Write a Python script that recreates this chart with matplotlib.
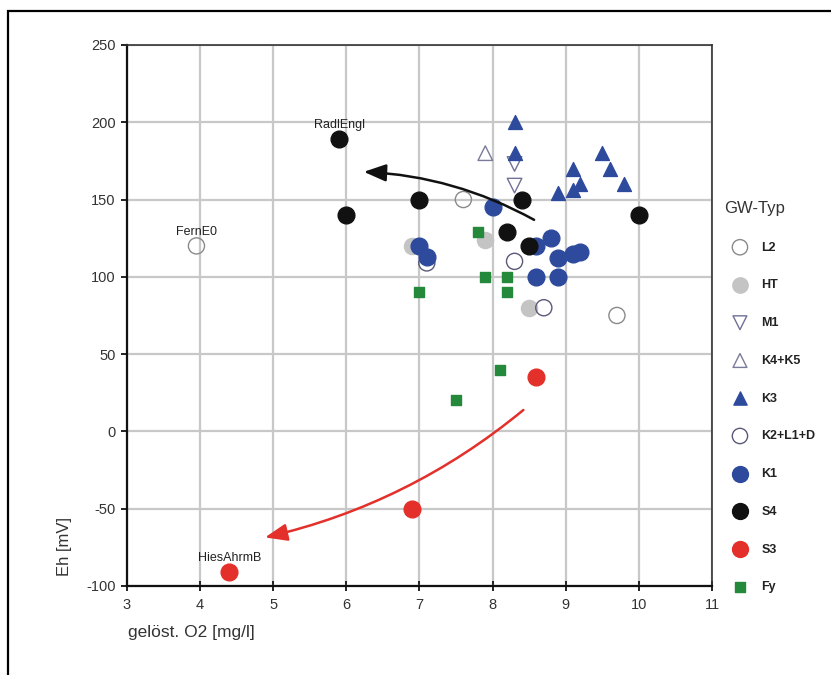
import matplotlib
matplotlib.use("Agg")
import matplotlib.pyplot as plt
from matplotlib.patches import FancyArrowPatch, Rectangle

plt.rcParams['font.family'] = ['Liberation Sans', 'DejaVu Sans']
plt.rcParams['axes.unicode_minus'] = False

# DATEN (gelöst. O2 [mg/l], Eh [mV])
l2_x = [3.95, 7.6, 9.7]
l2_y = [120, 150, 75]

ht_x = [6.9, 7.9, 8.5]
ht_y = [120, 124, 80]

m1_x = [8.3, 8.3]
m1_y = [173, 159]

k45_x = [7.9]
k45_y = [180]

k3_x = [8.3, 8.3, 9.1, 9.2, 9.5, 9.6, 9.8, 8.9, 9.1]
k3_y = [200, 180, 170, 160, 180, 170, 160, 154, 156]

k2_x = [7.1, 8.3, 8.7]
k2_y = [109, 110, 80]

k1_x = [8.0, 7.0, 7.1, 8.8, 8.6, 8.9, 9.1, 9.2, 8.6, 8.9]
k1_y = [145, 120, 113, 125, 120, 112, 115, 116, 100, 100]

s4_x = [5.9, 6.0, 7.0, 8.4, 8.2, 8.5, 10.0]
s4_y = [189, 140, 150, 150, 129, 120, 140]

s3_x = [8.6, 6.9, 4.4]
s3_y = [35, -50, -91]

fy_x = [7.8, 7.0, 7.9, 8.2, 8.2, 8.1, 7.5]
fy_y = [129, 90, 100, 100, 90, 40, 20]

# Beschriftete Messstellen
names = ["RadlEngl", "FernE0", "HiesAhrmB"]
names_x = [5.9, 3.95, 4.4]
names_y = [189, 120, -91]

# Pfeile (Start, Ende)
arrow_black = [(8.6, 136), (6.2, 168)]
arrow_red = [(8.45, 15), (4.85, -69)]

BLUE = '#2d4a9c'

fig = plt.figure(figsize=(8.31, 6.75), dpi=100)
ax = fig.add_axes([0.1528, 0.1319, 0.704, 0.8015])

# outer frame
fig.add_artist(Rectangle((8 / 831, -0.2), 1.5, (675 - 11) / 675 + 0.2,
                         transform=fig.transFigure, fill=False,
                         edgecolor='black', linewidth=1.6))

ax.scatter(l2_x, l2_y, s=135, facecolors='none', edgecolors='#8a8a8a',
           linewidths=1.0, label='L2', zorder=3)
ax.scatter(ht_x, ht_y, s=135, color='#c4c4c4', label='HT', zorder=3)
ax.scatter(m1_x, m1_y, s=110, marker='v', facecolors='none',
           edgecolors='#707098', linewidths=1.0, label='M1', zorder=3)
ax.scatter(k45_x, k45_y, s=110, marker='^', facecolors='none',
           edgecolors='#7a7a9a', linewidths=1.0, label='K4+K5', zorder=3)
ax.scatter(k3_x, k3_y, s=100, marker='^', color=BLUE, label='K3', zorder=3)
ax.scatter(k2_x, k2_y, s=135, facecolors='none', edgecolors='#5a5a78',
           linewidths=1.0, label='K2+L1+D', zorder=3)
ax.scatter(k1_x, k1_y, s=145, color=BLUE, label='K1', zorder=4)
ax.scatter(s4_x, s4_y, s=145, color='#111111', label='S4', zorder=4)
ax.scatter(s3_x, s3_y, s=145, color='#e3302b', label='S3', zorder=4)
ax.scatter(fy_x, fy_y, s=62, marker='s', color='#24893a', label='Fy', zorder=5)

for n, x, y in zip(names, names_x, names_y):
    ax.annotate(n, (x, y), xytext=(0, 6), textcoords='offset points',
                ha='center', va='bottom', fontsize=9, color='#222222')

ax.add_patch(FancyArrowPatch(arrow_black[0], arrow_black[1],
                             connectionstyle='arc3,rad=0.12',
                             arrowstyle='-|>,head_length=0.9,head_width=0.35',
                             mutation_scale=15, color='#111111', lw=1.8,
                             zorder=6))
ax.add_patch(FancyArrowPatch(arrow_red[0], arrow_red[1],
                             connectionstyle='arc3,rad=-0.12',
                             arrowstyle='-|>,head_length=0.9,head_width=0.35',
                             mutation_scale=15, color='#e3302b', lw=1.8,
                             zorder=6))

ax.set_xlim(3, 11)
ax.set_ylim(-100, 250)
ax.set_xticks(range(3, 12))
ax.set_yticks(range(-100, 251, 50))
ax.grid(True, color='#c8c8c8', linewidth=1.6, zorder=0)
ax.set_axisbelow(True)

for side in ['left', 'bottom']:
    ax.spines[side].set_linewidth(1.6)
    ax.spines[side].set_color('#111111')
for side in ['top', 'right']:
    ax.spines[side].set_linewidth(1.2)
    ax.spines[side].set_color('#333333')

ax.tick_params(axis='y', direction='out', length=4, width=1.4,
               labelsize=10.5, colors='#222222', labelcolor='#333333', pad=4)
ax.tick_params(axis='x', direction='inout', length=7, width=1.4,
               labelsize=10.5, colors='#222222', labelcolor='#333333', pad=5)

fig.text(65 / 831, (675 - 547) / 675, 'Eh [mV]', rotation=90,
         ha='center', va='center', fontsize=12, color='#333333')
fig.text(128 / 831, (675 - 633) / 675, 'gelöst. O2 [mg/l]',
         ha='left', va='center', fontsize=12.5, color='#333333')

leg = ax.legend(loc='upper left', bbox_to_anchor=(1.02, 0.712),
                frameon=False, title='GW-Typ', title_fontsize=12,
                prop={'size': 9, 'weight': 'bold'}, labelspacing=2.06,
                handlelength=2.6, handletextpad=0.4,
                borderaxespad=0, borderpad=0, markerscale=0.95)
leg._legend_box.align = 'left'
for t in leg.get_texts():
    t.set_color('#222222')
leg.get_title().set_color('#333333')

fig.savefig('out.png', dpi=100)
